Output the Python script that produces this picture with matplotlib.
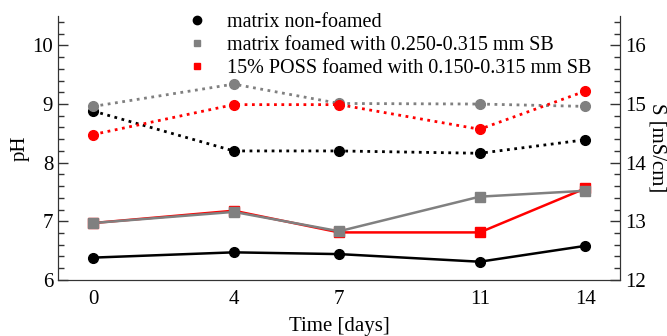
import matplotlib
matplotlib.use("Agg")
import matplotlib.pyplot as plt
from matplotlib.ticker import MultipleLocator
from matplotlib.lines import Line2D

plt.rcParams['font.family'] = ['Liberation Serif', 'DejaVu Serif']

days = [0, 4, 7, 11, 14]
ph_nonfoamed = [8.88, 8.20, 8.20, 8.16, 8.39]
ph_matrix_foamed = [8.96, 9.34, 9.01, 9.00, 8.96]
ph_poss_foamed = [8.48, 8.99, 8.99, 8.57, 9.22]
s_nonfoamed = [12.38, 12.47, 12.44, 12.31, 12.58]
s_matrix_foamed = [12.97, 13.16, 12.83, 13.42, 13.52]
s_poss_foamed = [12.97, 13.18, 12.81, 12.81, 13.56]
labels = ["matrix non-foamed",
          "matrix foamed with 0.250-0.315 mm SB",
          "15% POSS foamed with 0.150-0.315 mm SB"]

fig = plt.figure(figsize=(6.67, 3.36), dpi=100)
ax = fig.add_axes([0.087, 0.167, 0.843, 0.785])
ax2 = ax.twinx()

grey = '#808080'
red = '#ff0000'
# pH (dotted, left)
ax.plot(days, ph_nonfoamed, ':', color='black', lw=2, marker='o', ms=7)
ax.plot(days, ph_matrix_foamed, ':', color=grey, lw=2, marker='o', ms=7)
ax.plot(days, ph_poss_foamed, ':', color=red, lw=2, marker='o', ms=7)
# conductivity (solid, right)
ax2.plot(days, s_poss_foamed, '-', color=red, lw=1.8, marker='s', ms=7)
ax2.plot(days, s_matrix_foamed, '-', color=grey, lw=1.8, marker='s', ms=7)
ax2.plot(days, s_nonfoamed, '-', color='black', lw=1.8, marker='o', ms=7)

ax.set_xlim(-1, 15)
ax.set_ylim(6, 10.5)
ax2.set_ylim(12, 16.5)
ax.set_xticks(days)
ax.set_xticklabels([str(d) for d in days])
ax.tick_params(axis='x', length=0, labelsize=15, pad=7)
for a in (ax, ax2):
    a.yaxis.set_major_locator(MultipleLocator(1))
    a.yaxis.set_minor_locator(MultipleLocator(0.2))
    a.tick_params(axis='y', which='major', direction='in', length=7, width=1, labelsize=15, color='#333333')
    a.tick_params(axis='y', which='minor', direction='in', length=4, width=1, color='#333333')
    a.spines['top'].set_visible(False)
    for s in a.spines.values():
        s.set_color('#333333')
ax.set_ylabel('pH', fontsize=15, labelpad=2)
ax2.set_ylabel('S [mS/cm]', fontsize=15, rotation=-90, labelpad=15)
ax.set_xlabel('Time [days]', fontsize=15, labelpad=6)

handles = [Line2D([], [], ls='none', marker='o', color='black', ms=6),
           Line2D([], [], ls='none', marker='s', color=grey, ms=5),
           Line2D([], [], ls='none', marker='s', color=red, ms=5)]
ax.legend(handles, labels, loc='upper left', bbox_to_anchor=(169 / 667, 1.015),
          bbox_transform=fig.transFigure,
          frameon=False, fontsize=14.5, handlelength=1.0, handletextpad=1.0,
          labelspacing=0.2, borderpad=0.4)

fig.savefig('out.png', dpi=100)
